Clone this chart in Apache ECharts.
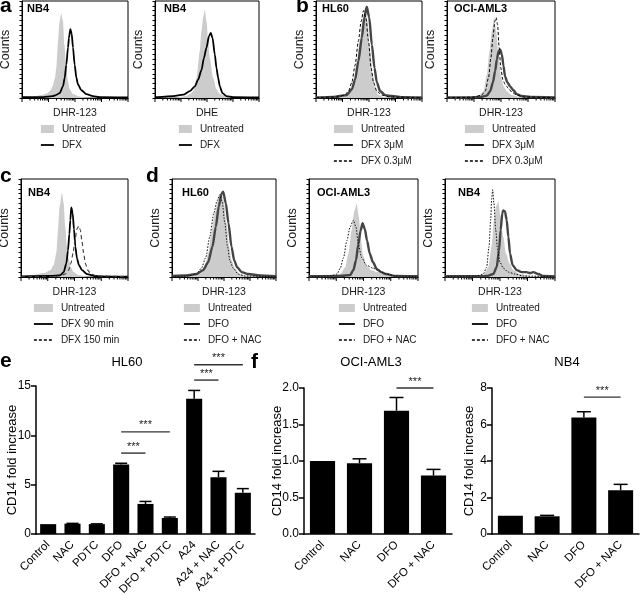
<!DOCTYPE html>
<html><head><meta charset="utf-8">
<script src="https://cdn.jsdelivr.net/npm/echarts@6/dist/echarts.min.js"></script>
<style>html,body{margin:0;padding:0;background:#fff}#c{width:640px;height:595px}</style>
</head><body><div id="c"></div>
<script>
// ===== Histogram data: [channel (% of log scale), counts (% of max)] =====
var a1Untreated = [[0,0.5],[10,1],[18,3],[24,5],[27,8],[29,12],[31,20],[32.5,32],[34,58],[35.5,79],[37,87],[38.7,79],[40,55],[41.8,31],[43.4,17],[45,9],[48,4],[54,1.5],[61,0.5],[100,0]];
var a1DFX = [[0,0.8],[20,1],[29,2],[32,3],[35.5,5],[38.7,12],[40.3,21],[41.8,34],[43.4,52],[44.3,62],[45.6,71],[46.9,66],[48.1,52],[49.7,34],[51.3,21],[52.8,14],[56,8],[60.7,4],[67,2],[73,1],[100,0.5]];
var a2Untreated = [[0,0],[20,0.5],[30,2],[33.5,4],[36.7,7],[40,21],[43,48],[44.7,69],[46.3,83],[47.9,91],[49.5,79],[51,62],[52.7,41],[55.9,21],[59.1,9],[62.3,4],[68.7,1.5],[75,0.5],[100,0]];
var a2DFX = [[0,1],[1.6,1],[17.6,2],[27.2,3.5],[33.5,7],[38.3,12],[41.5,19],[44.7,29],[47,41],[49.5,52],[52,64],[53.7,67],[55.3,62],[57.5,45],[59.1,31],[60.7,21],[62.3,12],[64.9,5],[68.7,2],[75,1],[100,0.5]];
var b1Untreated = [[0,0],[20,0.5],[28,2],[32.2,7],[35.3,17],[38.5,38],[41.6,62],[44.2,83],[46.4,93],[48.6,79],[51.1,48],[53.6,24],[55.8,10],[59,3],[63.7,1],[100,0]];
var b1DFX3 = [[0,0.5],[16.4,1.2],[29,3],[33.8,9],[36.9,19],[40,38],[43.2,62],[45.7,83],[47.9,94],[50.2,83],[52.7,55],[55.2,31],[57.4,16],[60.6,7],[65.3,3],[71.6,2],[82.6,0.8],[100,0.5]];
var b1DFX03 = [[0,0.5],[20,1],[27,3],[30.6,7],[33.8,16],[36.9,34],[40,59],[42.6,79],[44.8,90],[47,83],[49.5,59],[52,31],[54.3,16],[57.4,7],[62.1,3],[70,1],[100,0.3]];
var b2Untreated = [[0,0],[25,1],[30,3],[33.8,7],[36.9,24],[39.4,48],[41.5,69],[43.7,83],[45.5,69],[47.7,45],[49.8,24],[52.3,12],[55.4,7],[60,3],[67.7,1],[100,0]];
var b2DFX3 = [[0,0.5],[20,0.6],[30.8,1],[36.9,2.5],[40,7],[42.5,16],[44.6,28],[46.2,40],[47.7,48],[49.2,50],[50.8,45],[52.3,33],[53.8,22],[56,16],[58.5,12],[61.5,8],[64.6,4],[69.2,2],[76.9,1],[100,0.5]];
var b2DFX03 = [[0,0.3],[25,0.8],[32,3],[35.4,7],[38.5,21],[40.6,41],[42.5,62],[44.3,79],[45.5,83],[46.8,76],[48.3,52],[49.8,31],[51.7,19],[53.8,14],[56.9,10],[60,6],[64.6,3],[70.8,1],[100,0.3]];
var cUntreated = [[0,0.5],[2.5,1],[11.8,2],[21.2,4],[27.4,7],[30.5,12],[33,24],[34.6,48],[36.1,72],[38.3,86],[39.9,75],[41.4,51],[43,31],[44.5,19],[46.7,10],[49.2,5],[53.9,2],[61.7,0.5],[100,0]];
var cDFX90 = [[0,0.5],[27.4,1],[36.8,2],[39.9,5],[42.4,14],[43.9,27],[45.2,44],[46.1,58],[47,71],[48.3,65],[49.5,49],[50.8,31],[52.3,19],[54.2,12],[57,7],[61.7,3],[69.5,1],[74.1,0.5],[100,0.3]];
var cDFX150 = [[0,0.3],[30,0.5],[36.8,1],[41.4,3],[44.5,7],[46.7,14],[48.6,24],[50.5,38],[52.3,49],[53.9,52],[55.5,48],[57,36],[58.6,24],[60.1,14],[62.3,7],[65.4,3],[71,1],[100,0.3]];
var d1Untreated = [[0,0],[15,0.5],[22,1.5],[26.7,3],[31.5,10],[34.7,24],[37.9,44],[41.2,65],[44.4,80],[47.6,85],[49.8,77],[52.4,55],[55,31],[57.2,17],[60.5,9],[65.3,3],[71.7,1],[100,0]];
var d1DFO = [[0,1],[13.8,1.5],[23.5,3],[29.9,7],[34.7,15],[38.9,31],[42.1,51],[45,72],[47.6,85],[49.2,87],[51.8,75],[54.3,55],[57.2,31],[59.8,17],[62.7,10],[66.9,5],[73.3,3],[84.6,1.5],[100,0.8]];
var d1DFONAC = [[0,0.5],[15,1],[23.5,3],[28.3,9],[32.5,20],[36.3,41],[40.2,65],[43.4,78],[46,84],[48.2,77],[50.8,55],[53.4,31],[55.6,17],[58.8,9],[63.7,3],[70.1,1],[100,0.3]];
var d2Untreated = [[0,0],[20,1],[28.7,3],[33.2,10],[36.2,24],[39.2,48],[41.6,67],[43.7,75],[45.8,61],[47.6,38],[49.7,22],[52.7,12],[57.2,7],[63.2,5],[67.7,3],[73.7,1],[100,0]];
var d2DFO = [[0,0.8],[28.7,1],[37.7,2],[40.7,7],[43.1,17],[45.2,33],[47.3,47],[49.1,55],[51.2,49],[53.3,37],[55.7,24],[58.7,15],[62.3,8],[66.2,5],[70.7,3],[79.6,1],[100,0.8]];
var d2DFONAC = [[0,0.5],[19.8,1],[25.7,3],[28.7,9],[31.7,20],[34.7,37],[37.7,51],[40.7,58],[43.1,51],[45.2,34],[48.2,20],[52.7,12],[58.7,9],[64.7,6],[70.7,3],[79.6,1],[100,0.3]];
var d3Untreated = [[0,0],[25,0.5],[34.8,1.5],[39.4,10],[42.4,31],[44.5,58],[46.4,72],[48.5,77],[50.6,61],[53,41],[55.5,24],[58.5,14],[62.1,7],[68.2,3],[77.3,1],[100,0]];
var d3DFO = [[0,0.8],[30,0.8],[37.9,1],[43.9,3],[47,10],[49.1,27],[50.6,48],[52.1,65],[53,68],[54.5,67],[56.1,58],[57.6,41],[59.1,24],[61.5,12],[65.2,7],[69.7,5],[74.2,5],[77.3,4],[80.3,5],[84.8,3],[89.4,1],[100,0.5]];
var d3DFONAC = [[0,0.5],[20,0.8],[28.8,1],[34.8,3],[37.9,10],[40,31],[41.5,58],[42.4,79],[43.3,89],[44.5,75],[46.1,48],[47.9,27],[50,15],[53,9],[57.6,5],[63.6,3],[71.2,1],[100,0.3]];
var LOG_TICKS = [1,2,3,4,5,6,7,8,9,10,20,30,40,50,60,70,80,90,100,200,300,400,500,600,700,800,900,1000,2000,3000,4000,5000,6000,7000,8000,9000,10000];

// ===== Bar chart data =====
var catsE = ['Control','NAC','PDTC','DFO','DFO + NAC','DFO + PDTC','A24','A24 + NAC','A24 + PDTC'];
var valsE = [1.0, 1.05, 1.0, 7.05, 3.05, 1.62, 13.7, 5.75, 4.18];
var errsE = [0, 0.03, 0.03, 0.12, 0.25, 0.1, 0.85, 0.6, 0.42];
var sigE = [[3,4,8.2],[3,5,10.35],[6,7,15.6],[6,8,17.15]];
var catsF = ['Control','NAC','DFO','DFO + NAC'];
var valsOCI = [1.0, 0.97, 1.69, 0.80];
var errsOCI = [0, 0.06, 0.18, 0.085];
var sigOCI = [[2,3,2.0]];
var valsNB4 = [1.0, 0.97, 6.38, 2.4];
var errsNB4 = [0, 0.05, 0.32, 0.32];
var sigNB4 = [[2,3,7.5]];

// ===== build =====
var FONT = "'Liberation Sans', Arial, Helvetica, sans-serif";
var grids=[], xAxes=[], yAxes=[], series=[], legends=[], graphics=[];

var STYLE = {
  fill: {width:0, color:'#cccccc', type:'solid'},
  solid: {width:1.8, color:'#000000', type:'solid'},
  thick: {width:2.4, color:'#454545', type:'solid'},
  dash: {width:1, color:'#000000', type:[3,2]},
  dashDark: {width:1.1, color:'#3a3a3a', type:[4,3]},
  dot: {width:1, color:'#111111', type:[1.5,1.5]}
};
var HIDE = {color:'rgba(0,0,0,0)', opacity:0, borderWidth:0};

function addHist(p){
  var gi = grids.length;
  grids.push({left:p.box[0], top:p.box[1], width:p.box[2], height:p.box[3], show:true,
    borderColor:'#000', borderWidth:1, backgroundColor:'rgba(0,0,0,0)', outerBoundsMode:'none', containLabel:false});
  var xi = xAxes.length;
  xAxes.push({type:'value', gridIndex:gi, min:0, max:100, show:false, position:'top'});
  xAxes.push({type:'log', gridIndex:gi, min:1, max:10000, logBase:10, position:'bottom',
    axisLine:{show:true, lineStyle:{color:'#000', width:1}}, axisTick:{show:false}, axisLabel:{show:false},
    splitLine:{show:false}, minorTick:{show:false},
    name:p.xname, nameLocation:'middle', nameGap:9.5, nameMoveOverlap:false,
    nameTextStyle:{fontSize:10.5, color:'#1a1a1a', fontFamily:FONT}});
  var yi = yAxes.length;
  yAxes.push({type:'value', gridIndex:gi, min:0, max:100, interval:5,
    axisLine:{show:true, lineStyle:{color:'#000', width:1}},
    axisTick:{show:true, length:2.5, lineStyle:{color:'#000', width:1}},
    axisLabel:{show:false}, splitLine:{show:false},
    name:'Counts', nameLocation:'middle', nameGap:10, nameMoveOverlap:false,
    nameTextStyle:{fontSize:12.5, color:'#1a1a1a', fontFamily:FONT}});
  p.curves.forEach(function(c){
    var st = STYLE[c[2]];
    var s = {type:'line', name:c[0], xAxisIndex:xi, yAxisIndex:yi, data:c[1], symbol:'none',
      smooth:0.25, smoothMonotone:'x', silent:true, z: c[2]==='fill'?1:(c[2]==='thick'||c[2]==='solid'?3:4),
      itemStyle:{color:st.color}, lineStyle:{width:st.width, color:st.color, type:st.type}};
    if (c[2]==='fill') s.areaStyle = {color:'#cccccc', opacity:1};
    series.push(s);
  });
  series.push({type:'custom', xAxisIndex:xi+1, yAxisIndex:yi, silent:true, clip:false,
    data: LOG_TICKS.map(function(v){ return [v, Math.abs(Math.log10(v) - Math.round(Math.log10(v)))<1e-9 ? 1 : 0]; }),
    encode:{x:0, y:1},
    renderItem:function(params, api){
      var pt = api.coord([api.value(0), 0]);
      var len = api.value(1) ? 4 : 2.5;
      return {type:'line', shape:{x1:pt[0], y1:pt[1], x2:pt[0], y2:pt[1]+len}, style:{stroke:'#000', lineWidth:1}};
    }});
  var order = {fill:0, solid:1, thick:1, dash:2, dashDark:2, dot:2};
  var items = p.curves.slice().sort(function(a,b){return order[a[2]]-order[b[2]];}).map(function(c){
    if (c[2]==='fill') return {name:c[0], icon:'rect', itemStyle:{color:'#cccccc', borderWidth:0}};
    if (order[c[2]]===1) return {name:c[0], lineStyle:{color:'#000', width:1.8, type:'solid'}, itemStyle:HIDE};
    return {name:c[0], lineStyle:{color:'#000', width:1.3, type:[3,2]}, itemStyle:HIDE};
  });
  legends.push({orient:'vertical', left:p.legend[0], top:p.legend[1], itemWidth:p.legend[2], itemHeight:8,
    itemGap:4, padding:0, selectedMode:false, data:items,
    textStyle:{fontSize:10, color:'#1a1a1a', fontFamily:FONT, lineHeight:12, padding:[0,0,0,3]}});
  graphics.push({type:'text', x:p.cell[0], y:p.cell[1], silent:true,
    style:{text:p.cell[2], fill:'#000', font:'bold 11px '+FONT, align:'left', verticalAlign:'middle', textAlign:'left', textVerticalAlign:'middle'}});
}

addHist({box:[22,1,106,97], cell:[27,9,'NB4'], xname:'DHR-123', legend:[40,123,13],
  curves:[['Untreated',a1Untreated,'fill'],['DFX',a1DFX,'solid']]});
addHist({box:[155,1,104,97], cell:[164,9,'NB4'], xname:'DHE', legend:[178,123,13],
  curves:[['Untreated',a2Untreated,'fill'],['DFX',a2DFX,'solid']]});
addHist({box:[316,1,106,97], cell:[322,9,'HL60'], xname:'DHR-123', legend:[333,123,19],
  curves:[['Untreated',b1Untreated,'fill'],['DFX 0.3μM',b1DFX03,'dash'],['DFX 3μM',b1DFX3,'thick']]});
addHist({box:[447,1,108,97], cell:[454,9,'OCI-AML3'], xname:'DHR-123', legend:[464,123,19],
  curves:[['Untreated',b2Untreated,'fill'],['DFX 0.3μM',b2DFX03,'dash'],['DFX 3μM',b2DFX3,'thick']]});
addHist({box:[21,179,107,98], cell:[28,192.5,'NB4'], xname:'DHR-123', legend:[33,302,19],
  curves:[['Untreated',cUntreated,'fill'],['DFX 150 min',cDFX150,'dashDark'],['DFX 90 min',cDFX90,'solid']]});
addHist({box:[172,179,104,98], cell:[182,192.5,'HL60'], xname:'DHR-123', legend:[183,302,16],
  curves:[['Untreated',d1Untreated,'fill'],['DFO + NAC',d1DFONAC,'dot'],['DFO',d1DFO,'thick']]});
addHist({box:[309,179,109,98], cell:[317,192.5,'OCI-AML3'], xname:'DHR-123', legend:[338,302,16],
  curves:[['Untreated',d2Untreated,'fill'],['DFO + NAC',d2DFONAC,'dot'],['DFO',d2DFO,'thick']]});
addHist({box:[445,179,110,98], cell:[458,192.5,'NB4'], xname:'DHR-123', legend:[471,302,16],
  curves:[['Untreated',d3Untreated,'fill'],['DFO + NAC',d3DFONAC,'dot'],['DFO',d3DFO,'thick']]});

function addBar(p){
  var gi = grids.length;
  grids.push({left:p.box[0], top:p.box[1], width:p.box[2], height:p.box[3], outerBoundsMode:'none', containLabel:false});
  var xi = xAxes.length, yi = yAxes.length;
  xAxes.push({type:'category', gridIndex:gi, data:p.cats,
    axisLine:{lineStyle:{color:'#000', width:1.5}},
    axisTick:{alignWithLabel:true, length:5, lineStyle:{color:'#000', width:1.5}},
    axisLabel:{rotate:45, interval:0, fontSize:11.5, color:'#000', margin:9, fontFamily:FONT, hideOverlap:false}});
  yAxes.push({type:'value', gridIndex:gi, min:0, max:p.max, interval:p.interval,
    axisLine:{show:true, lineStyle:{color:'#000', width:1.5}},
    axisTick:{show:true, length:5, lineStyle:{color:'#000', width:1.5}},
    splitLine:{show:false},
    axisLabel:{fontSize:12, color:'#000', margin:5, fontFamily:FONT, formatter:p.fmt},
    name:'CD14 fold increase', nameLocation:'middle', nameGap:p.nameGap, nameMoveOverlap:false,
    nameTextStyle:{fontSize:13, color:'#000', fontFamily:FONT}});
  series.push({type:'bar', xAxisIndex:xi, yAxisIndex:yi, data:p.vals, barWidth:p.barW, silent:true,
    itemStyle:{color:'#000'}});
  var cap = p.cap;
  series.push({type:'custom', xAxisIndex:xi, yAxisIndex:yi, silent:true, clip:false, z:5,
    data:p.vals.map(function(v,i){return [i, v, p.errs[i]];}), encode:{x:0, y:1},
    renderItem:function(params, api){
      var i=api.value(0), v=api.value(1), e=api.value(2);
      if (!e) return null;
      var p0=api.coord([i,v]), p1=api.coord([i,v+e]);
      return {type:'group', children:[
        {type:'line', shape:{x1:p0[0],y1:p0[1],x2:p1[0],y2:p1[1]}, style:{stroke:'#000', lineWidth:1.5}},
        {type:'line', shape:{x1:p1[0]-cap/2,y1:p1[1],x2:p1[0]+cap/2,y2:p1[1]}, style:{stroke:'#000', lineWidth:1.5}}
      ]};
    }});
  series.push({type:'custom', xAxisIndex:xi, yAxisIndex:yi, silent:true, clip:false, z:5,
    data:p.sig, encode:{x:[0,1], y:2},
    renderItem:function(params, api){
      var a=api.coord([api.value(0), api.value(2)]), b=api.coord([api.value(1), api.value(2)]);
      return {type:'group', children:[
        {type:'line', shape:{x1:a[0],y1:a[1],x2:b[0],y2:b[1]}, style:{stroke:'#333', lineWidth:1.4}},
        {type:'text', x:(a[0]+b[0])/2, y:a[1]-1, style:{text:'***', fill:'#222', font:'11px '+FONT,
          align:'center', verticalAlign:'bottom', textAlign:'center', textVerticalAlign:'bottom'}}
      ]};
    }});
  graphics.push({type:'text', x:p.title[0], y:p.title[1], silent:true,
    style:{text:p.title[2], fill:'#000', font:'13px '+FONT, align:'center', verticalAlign:'middle', textAlign:'center', textVerticalAlign:'middle'}});
}

addBar({box:[36,386,219,148], cats:catsE, vals:valsE, errs:errsE, sig:sigE, max:15, interval:5,
  fmt:function(v){return String(v);}, nameGap:17, barW:'66%', cap:12, title:[127,362,'HL60']});
addBar({box:[304,388,148,146], cats:catsF, vals:valsOCI, errs:errsOCI, sig:sigOCI, max:2, interval:0.5,
  fmt:function(v){return v.toFixed(1);}, nameGap:20, barW:'68%', cap:14, title:[371,362,'OCI-AML3']});
addBar({box:[492,388,147,146], cats:catsF, vals:valsNB4, errs:errsNB4, sig:sigNB4, max:8, interval:2,
  fmt:function(v){return String(v);}, nameGap:16, barW:'68%', cap:14, title:[567,362,'NB4']});

// panel letters
[['a',0,6],['b',296,6],['c',0,176],['d',146,176],['e',0,361],['f',251,362]].forEach(function(l){
  graphics.push({type:'text', x:l[1], y:l[2], silent:true,
    style:{text:l[0], fill:'#000', font:'bold 21px '+FONT, align:'left', verticalAlign:'middle', textAlign:'left', textVerticalAlign:'middle'}});
});

var chart = echarts.init(document.getElementById('c'), null, {renderer:'canvas'});
chart.setOption({
  animation:false, backgroundColor:'#ffffff',
  textStyle:{fontFamily:FONT},
  grid:grids, xAxis:xAxes, yAxis:yAxes, legend:legends, series:series,
  graphic:{elements:graphics}
});
</script>
</body></html>
